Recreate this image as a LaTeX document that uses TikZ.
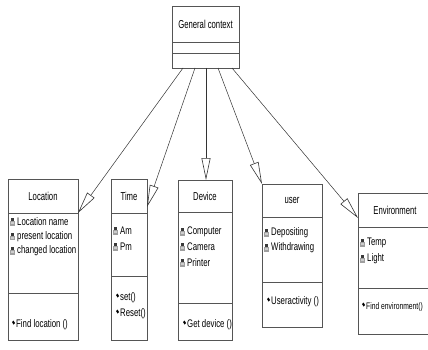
\documentclass[tikz,border=0pt]{standalone}
\usepackage{fontspec}
\setmainfont[FakeStretch=0.71]{Liberation Sans}
\newfontfamily\ttlfont[FakeStretch=0.67]{Liberation Sans}
\usetikzlibrary{arrows.meta}
\definecolor{boxc}{HTML}{555555}
\definecolor{linec}{HTML}{333333}
\begin{document}
\begin{tikzpicture}[x=1pt,y=-1pt,
  umlbox/.style={draw=boxc, fill=white, line width=0.8pt, inner sep=0pt, anchor=north west},
  divline/.style={draw=boxc, line width=0.8pt},
  ttl/.style={font=\ttlfont\fontsize{11.5}{12}\selectfont, inner sep=0pt},
  lbl/.style={font=\fontsize{11}{12}\selectfont, inner sep=0pt, anchor=west},
  gen/.style={draw=linec, line width=0.5pt, -{Triangle[open, length=22pt, width=9pt, line width=0.6pt]}},
  attric/.pic={\fill[gray!75] (0,-1) rectangle (5,3.5);
               \fill[gray!45!black] (1,-4) rectangle (3.5,-1);
               \fill[gray!40] (1,0) rectangle (4,2);},
  methic/.pic={\fill[black] (0,-2) -- (1.5,-3.5) -- (3,-1) -- (1.5,0.5) -- cycle;}
]
\useasboundingbox (0,0) rectangle (428,350);
\clip (0,0) rectangle (428,350);

% General context
\node[umlbox, minimum width=67pt, minimum height=62pt] (gc) at (172,6) {};
\draw[divline] (172,42) -- (239,42);
\draw[divline] (172,53) -- (239,53);
\node[ttl] (gct) at (205.5,24) {General context};

% Location
\node[umlbox, minimum width=70pt, minimum height=161pt] (loc) at (8,179) {};
\draw[divline] (8,213) -- (78,213);
\draw[divline] (8,293) -- (78,293);
\node[ttl] (loct) at (43,196) {Location};
\pic at (10,222) {attric};
\node[lbl] (loca1) at (17,222) {Location name};
\pic at (10,236.5) {attric};
\node[lbl] (loca2) at (17,236.5) {present location};
\pic at (10,251) {attric};
\node[lbl] (loca3) at (17,251) {changed location};
\pic at (12,324) {methic};
\node[lbl] (locm1) at (16,325) {Find location ()};

% Time
\node[umlbox, minimum width=36pt, minimum height=161pt] (tim) at (111,179) {};
\draw[divline] (111,213) -- (147,213);
\draw[divline] (111,276) -- (147,276);
\node[ttl] (timt) at (129,196) {Time};
\pic at (113,231) {attric};
\node[lbl] (tima1) at (120,231) {Am};
\pic at (113,247) {attric};
\node[lbl] (tima2) at (120,247) {Pm};
\pic at (116,297) {methic};
\node[lbl] (timm1) at (120,298) {set()};
\pic at (116,313) {methic};
\node[lbl] (timm2) at (120,314) {Reset()};

% Device
\node[umlbox, minimum width=54pt, minimum height=160pt] (dev) at (178,180) {};
\draw[divline] (178,212) -- (232,212);
\draw[divline] (178,303) -- (232,303);
\node[ttl] (devt) at (205,196) {Device};
\pic at (180,232) {attric};
\node[lbl] (deva1) at (187,232) {Computer};
\pic at (180,247) {attric};
\node[lbl] (deva2) at (187,247) {Camera};
\pic at (180,263) {attric};
\node[lbl] (deva3) at (187,263) {Printer};
\pic at (183,324) {methic};
\node[lbl] (devm1) at (187,325) {Get device ()};

% user
\node[umlbox, minimum width=60pt, minimum height=143pt] (usr) at (262,184) {};
\draw[divline] (262,217) -- (322,217);
\draw[divline] (262,282) -- (322,282);
\node[ttl] (usrt) at (292,200) {user};
\pic at (264,233) {attric};
\node[lbl] (usra1) at (271,233) {Depositing};
\pic at (264,248) {attric};
\node[lbl] (usra2) at (271,248) {Withdrawing};
\pic at (267,301) {methic};
\node[lbl] (usrm1) at (271,302) {Useractivity ()};

% Environment
\node[umlbox, minimum width=74pt, minimum height=141pt] (env) at (358,193) {};
\draw[divline] (358,227) -- (432,227);
\draw[divline] (358,288) -- (432,288);
\node[ttl] (envt) at (395,210) {Environment};
\pic at (360,243) {attric};
\node[lbl] (enva1) at (367,243) {Temp};
\pic at (360,259) {attric};
\node[lbl] (enva2) at (367,259) {Light};
\pic at (362,306) {methic};
\node[lbl, font=\fontsize{9.5}{12}\selectfont] (envm1) at (366,307) {Find environment()};

% connectors
\coordinate (s1) at (183,68);
\coordinate (s2) at (195,68);
\coordinate (s3) at (206,68);
\coordinate (s4) at (218,68);
\coordinate (s5) at (232,68);
\coordinate (t1) at (78,213);
\coordinate (t2) at (147,207);
\coordinate (t3) at (206,180);
\coordinate (t4) at (262,184);
\coordinate (t5) at (358,218);
\draw[gen] (s1) -- (t1);
\draw[gen] (s2) -- (t2);
\draw[gen] (s3) -- (t3);
\draw[gen] (s4) -- (t4);
\draw[gen] (s5) -- (t5);
\end{tikzpicture}
\end{document}
